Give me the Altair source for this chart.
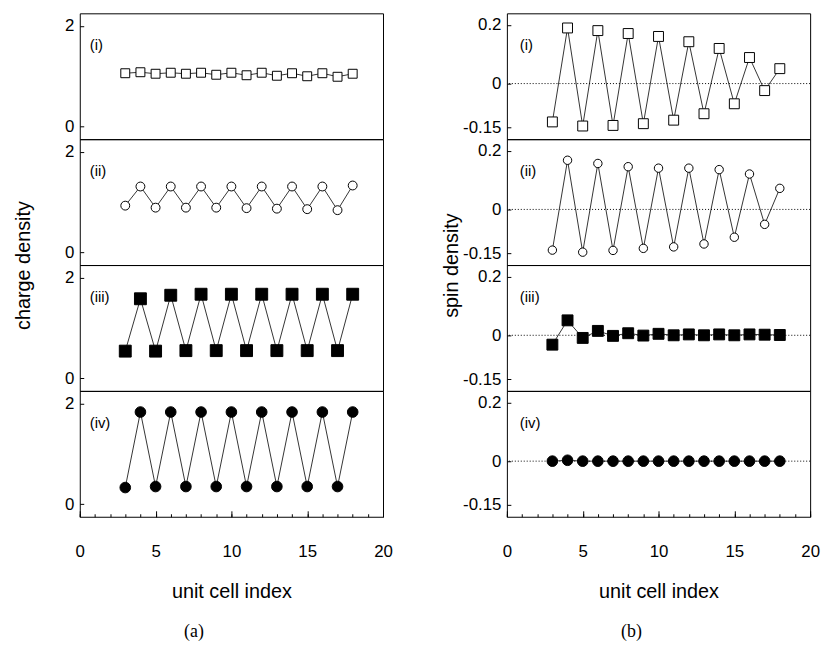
import altair as alt
import pandas as pd

FONT = "Liberation Sans"

cells = list(range(3, 19))

# charge density, panels (i)-(iv)
charge_i = [1.06, 1.08, 1.05, 1.07, 1.05, 1.07, 1.03, 1.07, 1.02, 1.07, 1.01, 1.06, 1.00, 1.06, 0.99, 1.05]
charge_ii = [0.93, 1.31, 0.89, 1.31, 0.89, 1.31, 0.89, 1.31, 0.88, 1.31, 0.87, 1.31, 0.86, 1.31, 0.84, 1.33]
charge_iii = [0.54, 1.58, 0.54, 1.65, 0.55, 1.67, 0.55, 1.67, 0.55, 1.67, 0.55, 1.67, 0.55, 1.67, 0.55, 1.67]
charge_iv = [0.33, 1.83, 0.35, 1.83, 0.35, 1.83, 0.35, 1.83, 0.35, 1.83, 0.35, 1.83, 0.35, 1.83, 0.35, 1.83]

# spin density, panels (i)-(iv)
spin_i = [-0.131, 0.190, -0.145, 0.181, -0.143, 0.171, -0.137, 0.161, -0.125, 0.143, -0.103, 0.120, -0.069, 0.089, -0.024, 0.051]
spin_ii = [-0.139, 0.168, -0.146, 0.157, -0.140, 0.146, -0.133, 0.141, -0.128, 0.141, -0.118, 0.136, -0.095, 0.121, -0.051, 0.072]
spin_iii = [-0.032, 0.051, -0.009, 0.015, -0.002, 0.007, -0.001, 0.005, 0.0, 0.003, 0.0, 0.003, 0.0, 0.003, 0.002, 0.001]
spin_iv = [0.0, 0.003, 0.0, 0.0, 0.0, 0.0, 0.0, 0.0, 0.0, 0.0, 0.0, 0.0, 0.0, 0.0, 0.0, 0.0]

panel_labels = ["(i)", "(ii)", "(iii)", "(iv)"]
charge_ticks = [0, 2]
spin_ticks = [-0.15, 0, 0.2]
x_major = [0, 5, 10, 15, 20]
x_minor = list(range(0, 21))

W, H = 306, 127
LABEL_EXPR = "replace(format(datum.value, '~g'), '\u2212', '-')"


def panel(vals, shape, filled, size, label, ydom, yticks, label_x,
          ytitle=None, title_x=-61, bottom=False, zero=False):
    df = pd.DataFrame({"cell": cells, "val": vals})
    xs = alt.Scale(domain=[0, 20], nice=False, zero=False)
    ys = alt.Scale(domain=ydom, nice=False, zero=False)

    yaxis_kw = dict(orient="left", values=yticks, offset=-4, tickSize=4,
                    tickColor="black", tickWidth=1, domain=False, grid=False,
                    labelPadding=6, labelFont=FONT, labelFontSize=17,
                    labelColor="black", labelExpr=LABEL_EXPR, labelFlush=False,
                    title=None)
    if ytitle:
        yaxis_kw.update(title=ytitle, titleFont=FONT, titleFontSize=20,
                        titleFontWeight="normal", titleColor="black",
                        titleX=title_x, titleY=H, titleAngle=270,
                        titleAlign="center", titleBaseline="middle")
    yaxis = alt.Axis(**yaxis_kw)

    if bottom:
        xaxis_main = alt.Axis(orient="bottom", values=x_major, offset=-6, tickSize=6,
                              tickColor="black", domain=False, grid=False,
                              labelPadding=27, labelFont=FONT, labelFontSize=17,
                              labelColor="black", format="d", labelFlush=False,
                              labelOverlap=False,
                              title="unit cell index", titleFont=FONT,
                              titleFontSize=20, titleFontWeight="normal",
                              titleColor="black", titlePadding=22)
        xaxis_minor = alt.Axis(orient="bottom", values=x_minor, offset=-3, tickSize=3,
                               tickColor="black", domain=False, grid=False,
                               labels=False, title=None)
        x1 = alt.X("cell:Q", scale=xs, axis=xaxis_main)
        x2 = alt.X("cell:Q", scale=xs, axis=xaxis_minor)
    else:
        x1 = alt.X("cell:Q", scale=xs, axis=None)
        x2 = alt.X("cell:Q", scale=xs, axis=None)

    base = alt.Chart(df)
    line = base.mark_line(color="black", strokeWidth=0.8).encode(
        x=x1, y=alt.Y("val:Q", scale=ys, axis=yaxis))
    pts = base.mark_point(shape=shape, filled=True, size=size,
                          fill="black" if filled else "white",
                          stroke="black", strokeWidth=1, opacity=1).encode(
        x=x2, y=alt.Y("val:Q", scale=ys, axis=None))
    txt = alt.Chart(pd.DataFrame({"t": [label]})).mark_text(
        align="left", baseline="middle", font=FONT, fontSize=15, color="black").encode(
        text="t:N", x=alt.value(label_x), y=alt.value(32))

    layers = []
    if zero:
        zl = alt.Chart(pd.DataFrame({"z": [0]})).mark_rule(
            color="black", strokeWidth=1, strokeDash=[1, 2]).encode(
            y=alt.Y("z:Q", scale=ys, axis=None))
        layers.append(zl)
    layers += [line, pts, txt]
    return alt.layer(*layers).resolve_axis(x="independent", y="independent").properties(
        width=W, height=H)


left_specs = [
    (charge_i, "square", False, 81),
    (charge_ii, "circle", False, 80),
    (charge_iii, "square", True, 144),
    (charge_iv, "circle", True, 115),
]
right_specs = [
    (spin_i, "square", False, 100),
    (spin_ii, "circle", False, 72),
    (spin_iii, "square", True, 121),
    (spin_iv, "circle", True, 115),
]

left_panels = []
for k, (vals, shp, fil, sz) in enumerate(left_specs):
    left_panels.append(panel(vals, shp, fil, sz, panel_labels[k], [-0.25, 2.25],
                             charge_ticks, 10,
                             ytitle="charge density" if k == 1 else None,
                             title_x=-61, bottom=(k == 3), zero=False))

right_panels = []
for k, (vals, shp, fil, sz) in enumerate(right_specs):
    right_panels.append(panel(vals, shp, fil, sz, panel_labels[k], [-0.19, 0.24],
                              spin_ticks, 13,
                              ytitle="spin density" if k == 1 else None,
                              title_x=-60, bottom=(k == 3), zero=True))

left = alt.vconcat(*left_panels, spacing=0, bounds="flush").properties(
    title=alt.TitleParams("(a)", orient="bottom", anchor="middle",
                          font="Liberation Serif", fontSize=18, fontWeight="normal",
                          color="black", offset=22, dx=-9))
right = alt.vconcat(*right_panels, spacing=0, bounds="flush").properties(
    title=alt.TitleParams("(b)", orient="bottom", anchor="middle",
                          font="Liberation Serif", fontSize=18, fontWeight="normal",
                          color="black", offset=22, dx=1))

chart = alt.hconcat(left, right, spacing=48).properties(
    padding={"left": 12.5, "top": 9.5, "right": 5, "bottom": 5}
).configure(background="white").configure_view(stroke="black", strokeWidth=1)

chart.save("out.html", embed_options={"renderer": "svg", "actions": False})
